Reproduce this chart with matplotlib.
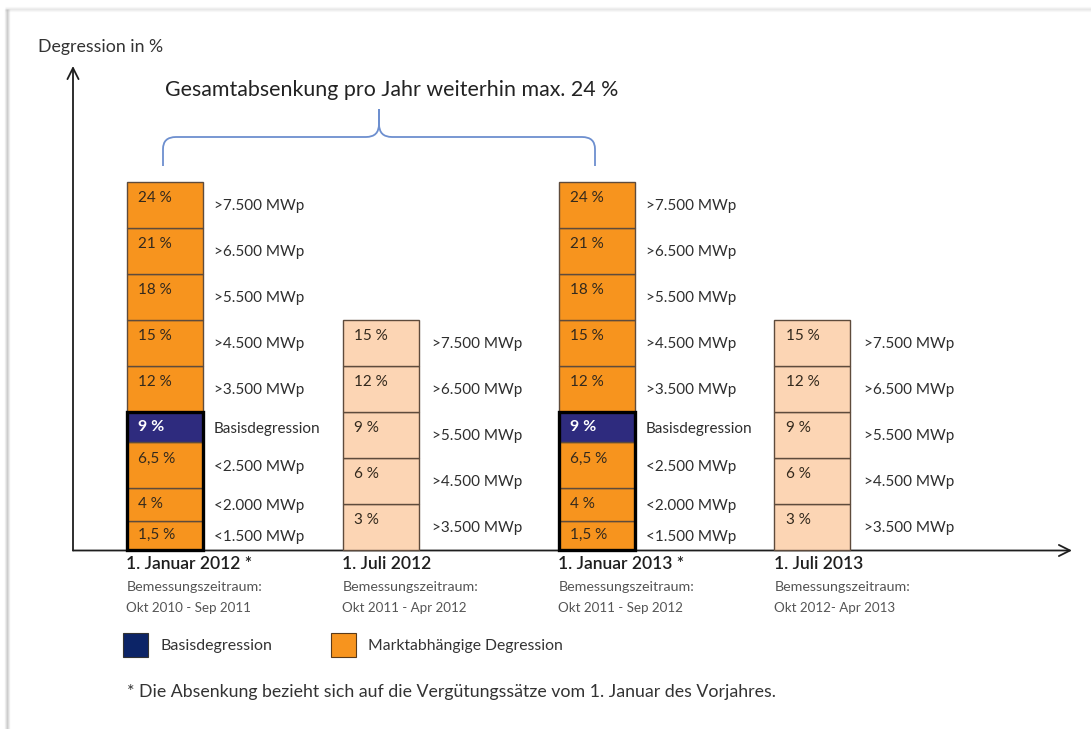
import matplotlib
matplotlib.use("Agg")
import matplotlib.pyplot as plt
from matplotlib.patches import Rectangle, PathPatch
from matplotlib.path import Path

plt.rcParams['font.family'] = ['Lato', 'DejaVu Sans']

# ---------------- data ----------------
categories = ["1. Januar 2012 *", "1. Juli 2012", "1. Januar 2013 *", "1. Juli 2013"]
period_header = "Bemessungszeitraum:"
periods = ["Okt 2010 - Sep 2011", "Okt 2011 - Apr 2012",
           "Okt 2011 - Sep 2012", "Okt 2012- Apr 2013"]
is_january = [True, False, True, False]

jan_rates = [1.5, 4, 6.5, 9, 12, 15, 18, 21, 24]
jan_rate_labels = ["1,5 %", "4 %", "6,5 %", "9 %", "12 %", "15 %", "18 %", "21 %", "24 %"]
jan_thresholds = ["<1.500 MWp", "<2.000 MWp", "<2.500 MWp", "Basisdegression",
                  ">3.500 MWp", ">4.500 MWp", ">5.500 MWp", ">6.500 MWp", ">7.500 MWp"]
basis_rate = 9

jul_rates = [3, 6, 9, 12, 15]
jul_rate_labels = ["3 %", "6 %", "9 %", "12 %", "15 %"]
jul_thresholds = [">3.500 MWp", ">4.500 MWp", ">5.500 MWp", ">6.500 MWp", ">7.500 MWp"]

title = "Gesamtabsenkung pro Jahr weiterhin max. 24 %"
y_label = "Degression in %"
legend_labels = ["Basisdegression", "Marktabhängige Degression"]
footnote = "* Die Absenkung bezieht sich auf die Vergütungssätze vom 1. Januar des Vorjahres."

# ---------------- schematic layout (segment heights in rows) ----------------
jan_seg_rows = [0.63, 0.70, 1.0, 0.67, 1.0, 1.0, 1.0, 1.0, 1.0]
jul_seg_rows = [1.0] * len(jul_rates)

ORANGE = "#F7941E"
PEACH = "#FCD5B4"
NAVY = "#2E2B7E"
NAVY_LEG = "#0C2467"
EDGE = "#5e4b3c"
TXT = "#2e2e2e"

W, H = 1091, 729
fig = plt.figure(figsize=(W / 100, H / 100), dpi=100)

# pixel mapping for bar axes
X0, DX = 164.5, 216.0       # centre of first bar, spacing (px)
BASE, ROW = 549.5, 46.0     # baseline from top, row height (px)
bar_w = 76.0 / DX

ax = fig.add_axes([0, 0, 1, 1])
ax.set_xlim(-X0 / DX, (W - X0) / DX)
ax.set_ylim(-(H - BASE) / ROW, BASE / ROW)
ax.axis("off")
ax.patch.set_alpha(0)

ov = fig.add_axes([0, 0, 1, 1], zorder=-1)
ov.set_xlim(0, W)
ov.set_ylim(H, 0)
ov.axis("off")

for i, jan in enumerate(is_january):
    rates = jan_rates if jan else jul_rates
    labels = jan_rate_labels if jan else jul_rate_labels
    thresholds = jan_thresholds if jan else jul_thresholds
    rows = jan_seg_rows if jan else jul_seg_rows
    bottom = 0.0
    group_top = 0.0
    lab_dx = 11 if jan else 14
    for r, lab, th, h in zip(rates, labels, thresholds, rows):
        if jan:
            col = NAVY if r == basis_rate else ORANGE
        else:
            col = PEACH
        ax.bar(i, h, bottom=bottom, width=bar_w, color=col,
               edgecolor=EDGE, linewidth=1.0, zorder=2)
        top = bottom + h
        is_basis = jan and r == basis_rate
        ax.text(i - bar_w / 2 + 12 / DX, top - min(0.36, h / 2), lab,
                ha="left", va="center",
                fontsize=11.5 if is_basis else 11,
                fontweight="bold" if is_basis else "normal",
                color="white" if is_basis else "#33291d", zorder=4)
        ax.text(i + bar_w / 2 + lab_dx / DX, bottom + h / 2 - 0.04, th,
                ha="left", va="center", fontsize=11, color=TXT, zorder=4)
        if is_basis:
            group_top = top
        bottom = top
    if jan:
        ax.add_patch(Rectangle((i - bar_w / 2, 0), bar_w, group_top, fill=False,
                               edgecolor="black", linewidth=2.4, zorder=3))

    # category labels below axis
    xl = X0 + DX * i - 76 / 2
    ov.text(xl, 564, categories[i], fontsize=12.6, fontweight=600, color="#1e1e1e",
            ha="left", va="center")
    ov.text(xl, 587, period_header, fontsize=10.3, color="#555555",
            ha="left", va="center")
    ov.text(xl, 608, periods[i], fontsize=9.6, color="#555555",
            ha="left", va="center")

# axes arrows
arrow_kw = dict(arrowstyle="->", lw=1.3, color="#1e1e1e", mutation_scale=20,
                shrinkA=0, shrinkB=0)
ov.annotate("", xy=(73, 66), xytext=(73, 550.5), arrowprops=arrow_kw)
ov.annotate("", xy=(1072, 550.5), xytext=(73, 550.5), arrowprops=arrow_kw)
ov.text(38, 47, y_label, fontsize=12.8, color="#333333", ha="left", va="center")

# brace + title
verts = [(163, 166), (163, 149), (163, 137), (176, 137), (366, 137), (379, 137), (379, 124), (379, 109),
         (379, 109), (379, 124), (379, 137), (392, 137), (582, 137), (595, 137), (595, 149), (595, 166)]
codes = [Path.MOVETO, Path.LINETO, Path.CURVE3, Path.CURVE3, Path.LINETO, Path.CURVE3, Path.CURVE3, Path.LINETO,
         Path.MOVETO, Path.LINETO, Path.CURVE3, Path.CURVE3, Path.LINETO, Path.CURVE3, Path.CURVE3, Path.LINETO]
ov.add_patch(PathPatch(Path(verts, codes), fill=False, edgecolor="#6d8fcf", lw=1.3))
ov.text(165, 90, title, fontsize=15.4, color="#222222", ha="left", va="center")

# legend
ov.add_patch(Rectangle((123, 633), 25, 24, facecolor=NAVY_LEG, edgecolor="#333333", lw=0.8))
ov.text(160, 646, legend_labels[0], fontsize=11.5, color="#333333", ha="left", va="center")
ov.add_patch(Rectangle((331, 633), 25, 24, facecolor=ORANGE, edgecolor="#5a3a1a", lw=0.8))
ov.text(368, 646, legend_labels[1], fontsize=11.3, color="#333333", ha="left", va="center")

# footnote
ov.text(127, 692, footnote, fontsize=12.8, color="#333333", ha="left", va="center")

# card shadow (left and top edges only)
for k, a in enumerate([0.10, 0.22, 0.35, 0.22, 0.10]):
    off = 5 + k
    ov.plot([off, off], [9, H], color="#888888", alpha=a, lw=1, solid_capstyle="butt")
    ov.plot([5, W], [7 + k, 7 + k], color="#aaaaaa", alpha=a * 0.6, lw=1, solid_capstyle="butt")

fig.savefig("out.png", dpi=100)
